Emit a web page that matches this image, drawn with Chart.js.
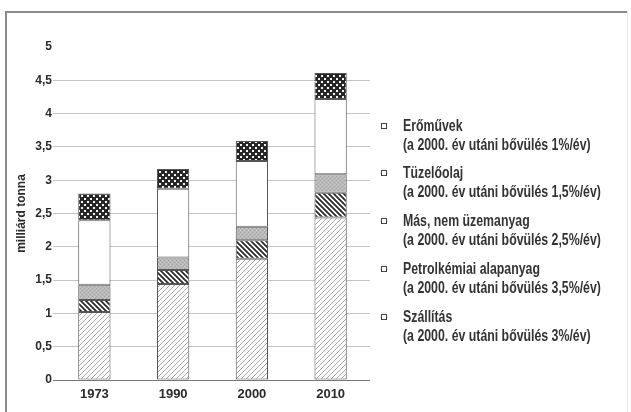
<!DOCTYPE html>
<html>
<head>
<meta charset="utf-8">
<script src="https://cdn.jsdelivr.net/npm/chart.js@4"></script>
<style>
  body { margin: 0; background: #fff; }
  #wrap { position: relative; width: 631px; height: 412px; overflow: hidden; background: #fff; }
  #chart { position: absolute; left: 0; top: 0; }
  .frame { position: absolute; background: #8a8a8a; }
  #legend { position: absolute; left: 0; top: 0; font-family: 'Liberation Sans', Arial, sans-serif; font-size: 16px; font-weight: bold; color: #333; }
  .item { position: absolute; left: 381px; line-height: 19px; white-space: nowrap; }
  .box { position: absolute; left: 0; top: 7px; width: 4px; height: 4px; border: 1px solid #444; background: #fff; }
  .txt { position: absolute; left: 22px; top: 0; transform: scaleX(0.77); transform-origin: 0 0; }
</style>
</head>
<body>
<div id="wrap">
  <canvas id="chart" width="631" height="412"></canvas>
  <div class="frame" style="left:5px; top:11px; width:2px; height:401px;"></div>
  <div class="frame" style="left:5px; top:11px; width:623px; height:2px;"></div>
  <div class="frame" style="left:627px; top:11px; width:1px; height:401px; background:#e6e6e6;"></div>
  <div id="legend"></div>
</div>
<script>
// adatok (milliárd tonna)
var evek = ['1973', '1990', '2000', '2010'];
var szallitas = [1.02, 1.44, 1.82, 2.44];
var petrolkemiai = [0.18, 0.21, 0.28, 0.37];
var masNemUzem = [0.23, 0.19, 0.20, 0.28];
var tuzeloolaj = [0.97, 1.03, 0.99, 1.13];
var eromuvek = [0.40, 0.30, 0.30, 0.39];

var nevek = ['Szállítás', 'Petrolkémiai alapanyag', 'Más, nem üzemanyag', 'Tüzelőolaj', 'Erőművek'];
var bovules = ['3%', '3,5%', '2,5%', '1,5%', '1%'];
var yTicks = [0, 0.5, 1, 1.5, 2, 2.5, 3, 3.5, 4, 4.5, 5];

// minták a sávokhoz
function tile(size, draw) {
  var c = document.createElement('canvas');
  c.width = size; c.height = size;
  var g = c.getContext('2d');
  draw(g, size);
  return document.getElementById('chart').getContext('2d').createPattern(c, 'repeat');
}

var ritkaCsik = tile(5, function (g, s) {
  g.fillStyle = '#fff'; g.fillRect(0, 0, s, s);
  g.strokeStyle = '#a8a8a8'; g.lineWidth = 1;
  g.beginPath();
  g.moveTo(-1, s + 1); g.lineTo(s + 1, -1);
  g.moveTo(-1, 1); g.lineTo(1, -1);
  g.moveTo(s - 1, s + 1); g.lineTo(s + 1, s - 1);
  g.stroke();
});
var suruCsik = tile(5, function (g, s) {
  g.fillStyle = '#fff'; g.fillRect(0, 0, s, s);
  g.strokeStyle = '#2a2a2a'; g.lineWidth = 1.8;
  g.beginPath();
  g.moveTo(-1, -1); g.lineTo(s + 1, s + 1);
  g.moveTo(-1, s - 1); g.lineTo(1, s + 1);
  g.moveTo(s - 1, -1); g.lineTo(s + 1, 1);
  g.stroke();
});
var szurke = tile(4, function (g, s) {
  g.fillStyle = '#b9b9b9'; g.fillRect(0, 0, s, s);
  g.fillStyle = '#a4a4a4'; g.fillRect(0, 0, 1, 1); g.fillRect(2, 2, 1, 1);
  g.fillStyle = '#c8c8c8'; g.fillRect(2, 0, 1, 1); g.fillRect(0, 2, 1, 1);
});
var kockas = tile(6, function (g, s) {
  g.fillStyle = '#262626'; g.fillRect(0, 0, s, s);
  g.fillStyle = '#f4f4f4';
  g.fillRect(0, 0, 2, 2); g.fillRect(3, 3, 2, 2);
});

var fills = [ritkaCsik, suruCsik, szurke, '#ffffff', kockas];
var series = [szallitas, petrolkemiai, masNemUzem, tuzeloolaj, eromuvek];

var datasets = series.map(function (d, i) {
  return {
    label: nevek[i],
    data: d,
    backgroundColor: fills[i],
    borderColor: '#555',
    borderWidth: 1,
    borderSkipped: false,
    categoryPercentage: 1,
    barPercentage: 0.41
  };
});

var tickFont = { family: "'Liberation Sans', Arial, sans-serif", size: 13, weight: 'bold' };

new Chart(document.getElementById('chart'), {
  type: 'bar',
  data: { labels: evek, datasets: datasets },
  options: {
    responsive: false,
    animation: false,
    layout: { padding: { left: 14, right: 261, top: 47, bottom: 0 } },
    plugins: { legend: { display: false }, tooltip: { enabled: false } },
    scales: {
      x: {
        stacked: true,
        grid: { display: false, drawTicks: false },
        border: { display: false },
        ticks: { color: '#2a2a2a', font: tickFont, padding: 7 },
        afterFit: function (s) { s.height = 32; }
      },
      y: {
        stacked: true,
        min: 0,
        max: 5,
        afterBuildTicks: function (s) { s.ticks = yTicks.map(function (v) { return { value: v }; }); },
        grid: {
          color: function (c) {
            if (c.tick && c.tick.value === 5) return 'rgba(0,0,0,0)';
            if (c.tick && c.tick.value === 0) return '#777';
            return '#c4c4c4';
          },
          tickLength: 2,
          lineWidth: 1
        },
        border: { display: false },
        ticks: {
          color: '#2a2a2a',
          font: { family: "'Liberation Sans', Arial, sans-serif", size: 12, weight: 'bold' },
          padding: 1,
          callback: function (v) { return String(v).replace('.', ','); }
        },
        title: {
          display: true,
          text: 'milliárd tonna',
          color: '#2a2a2a',
          font: { family: "'Liberation Sans', Arial, sans-serif", size: 12, weight: 'bold' },
          padding: { top: 0, bottom: 2 }
        },
        afterFit: function (s) { s.width = 41; }
      }
    }
  }
});

// jelmagyarázat (fordított sorrend, mint a halmozás)
var legend = document.getElementById('legend');
for (var k = nevek.length - 1, n = 0; k >= 0; k--, n++) {
  var item = document.createElement('div');
  item.className = 'item';
  item.style.top = (115.5 + n * 47.9) + 'px';
  item.innerHTML = '<span class="box"></span><span class="txt">' + nevek[k] +
    '<br>(a 2000. év utáni bővülés ' + bovules[k] + '/év)</span>';
  legend.appendChild(item);
}
</script>
</body>
</html>
